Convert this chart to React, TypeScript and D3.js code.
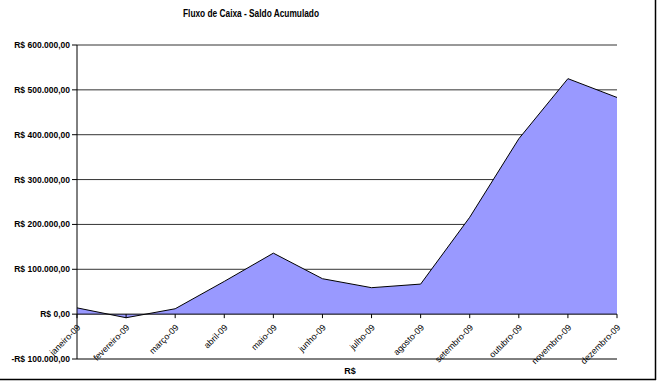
import React from "react";
import * as d3 from "d3";

const months = [
  "janeiro-09", "fevereiro-09", "março-09", "abril-09", "maio-09", "junho-09",
  "julho-09", "agosto-09", "setembro-09", "outubro-09", "novembro-09", "dezembro-09",
];
const saldo = [14000, -8000, 12000, 73000, 136000, 79000, 59000, 67000, 216000, 391000, 525000, 483000];
const yTicks = [-100000, 0, 100000, 200000, 300000, 400000, 500000, 600000];
const title = "Fluxo de Caixa - Saldo Acumulado";
const axisTitle = "R$";

const fmt = (v: number) => {
  const abs = Math.abs(v);
  const s = d3.format(",.2f")(abs).replace(/,/g, "X").replace(/\./g, ",").replace(/X/g, ".");
  return (v < 0 ? "-" : "") + "R$ " + s;
};

export default function App() {
  const W = 660, H = 382;
  const left = 77, right = 617, top = 45, bottom = 359;
  const x = d3.scalePoint<string>().domain(months).range([left, right]);
  const y = d3.scaleLinear().domain([-100000, 600000]).range([bottom, top]);
  const data = months.map((m, i) => ({ m, v: saldo[i] }));
  const area = d3.area<{ m: string; v: number }>()
    .x(d => x(d.m)!)
    .y0(y(0))
    .y1(d => y(d.v));
  const line = d3.line<{ m: string; v: number }>()
    .x(d => x(d.m)!)
    .y(d => y(d.v));
  const font = "'Liberation Sans', Arial, sans-serif";
  return (
    <svg width={W} height={H} style={{ position: "absolute", left: 0, top: 0, background: "#fff" }}>
      <rect x={0} y={0} width={W} height={H} fill="#fff" />
      <text x={251} y={17} textAnchor="middle" fontFamily={font} fontWeight="bold" fontSize={10.5}
        textLength={136} lengthAdjust="spacingAndGlyphs" fill="#000">{title}</text>
      {yTicks.filter(t => t !== 0 && t !== -100000).map(t => (
        <line key={t} x1={left} x2={right} y1={y(t)} y2={y(t)} stroke="#333" strokeWidth={1} />
      ))}
      <path d={area(data)!} fill="#9999FF" />
      <path d={line(data)!} fill="none" stroke="#000" strokeWidth={1} />
      <line x1={left} x2={left} y1={top} y2={bottom} stroke="#000" strokeWidth={1} />
      <line x1={left} x2={right} y1={y(0)} y2={y(0)} stroke="#000" strokeWidth={1} />
      <line x1={left} x2={right} y1={y(-100000)} y2={y(-100000)} stroke="#000" strokeWidth={1} />
      {yTicks.map(t => (
        <g key={t}>
          <line x1={left - 5} x2={left} y1={y(t)} y2={y(t)} stroke="#000" />
          <text x={70} y={y(t) + 3} textAnchor="end" fontFamily={font} fontWeight="bold"
            fontSize={8.5} fill="#000">{fmt(t)}</text>
        </g>
      ))}
      {months.map(m => (
        <g key={m}>
          <line x1={x(m)!} x2={x(m)!} y1={y(0)} y2={y(0) + 4} stroke="#000" />
          <text transform={`translate(${x(m)! + 4},${y(0) + 14}) rotate(-45)`} textAnchor="end"
            fontFamily={font} fontSize={8.8} fill="#000">{m}</text>
        </g>
      ))}
      <text x={350} y={374} textAnchor="middle" fontFamily={font} fontWeight="bold" fontSize={9} fill="#000">{axisTitle}</text>
      <line x1={655.5} x2={655.5} y1={0} y2={380} stroke="#000" strokeWidth={1.5} />
      <line x1={0} x2={656} y1={379.5} y2={379.5} stroke="#000" strokeWidth={1.5} />
    </svg>
  );
}
